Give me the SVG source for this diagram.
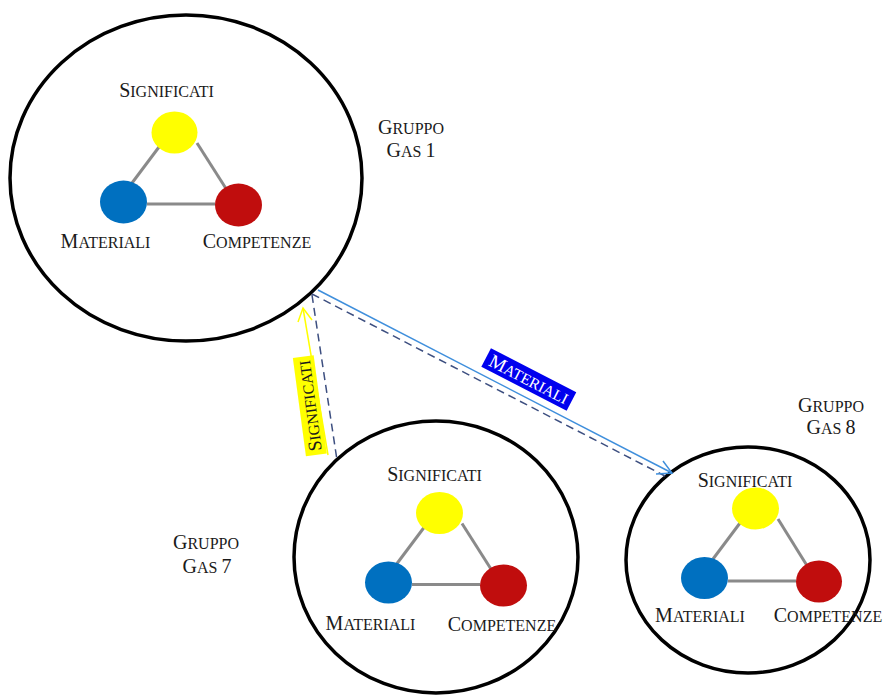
<svg xmlns="http://www.w3.org/2000/svg" width="885" height="696" viewBox="0 0 885 696">
<style>
.ring{fill:#fff;stroke:#000;stroke-width:3.5}
.link{stroke:#8a8a8a;stroke-width:3;fill:none}
.y{fill:#ffff00}
.b{fill:#0070c0}
.r{fill:#c00d0d}
text{font-family:"Liberation Serif","Times New Roman",serif;fill:#1a1a1a}
.c{text-anchor:middle}
.big{font-size:20px}
.sm{font-size:16px}
.dash{stroke:#3d4f80;stroke-width:1.5;stroke-dasharray:8,5;fill:none}
</style>
<rect width="885" height="696" fill="#fff"/>

<g id="gas1">
  <ellipse class="ring" cx="186" cy="178" rx="176" ry="163"/>
  <line class="link" x1="159" y1="147" x2="132" y2="183"/>
  <line class="link" x1="197" y1="143" x2="232" y2="198"/>
  <line class="link" x1="147" y1="204" x2="215" y2="204"/>
  <ellipse class="y" cx="174.5" cy="132.5" rx="23" ry="21"/>
  <ellipse class="b" cx="123.5" cy="202" rx="23.5" ry="21.5"/>
  <ellipse class="r" cx="238.5" cy="205" rx="23.5" ry="21.5"/>
  <text class="c" x="166.5" y="97"><tspan class="big">S</tspan><tspan class="sm">IGNIFICATI</tspan></text>
  <text class="c" x="105.5" y="248"><tspan class="big">M</tspan><tspan class="sm">ATERIALI</tspan></text>
  <text class="c" x="257" y="248"><tspan class="big">C</tspan><tspan class="sm">OMPETENZE</tspan></text>
  <text class="c" x="411" y="134"><tspan class="big">G</tspan><tspan class="sm">RUPPO</tspan></text>
  <text class="c" x="411" y="157"><tspan class="big">G</tspan><tspan class="sm">AS </tspan><tspan class="big">1</tspan></text>
</g>

<g id="gas7">
  <ellipse class="ring" cx="436" cy="557" rx="142" ry="136"/>
  <line class="link" x1="424" y1="527.5" x2="397" y2="563.5"/>
  <line class="link" x1="462" y1="523.5" x2="497" y2="578.5"/>
  <line class="link" x1="412" y1="584.5" x2="480" y2="584.5"/>
  <ellipse class="y" cx="439.5" cy="513" rx="23.5" ry="21"/>
  <ellipse class="b" cx="388.5" cy="582.5" rx="23.5" ry="21"/>
  <ellipse class="r" cx="503.5" cy="585.5" rx="23.5" ry="21"/>
  <text class="c" x="434.5" y="481"><tspan class="big">S</tspan><tspan class="sm">IGNIFICATI</tspan></text>
  <text class="c" x="370.5" y="630"><tspan class="big">M</tspan><tspan class="sm">ATERIALI</tspan></text>
  <text class="c" x="502" y="631"><tspan class="big">C</tspan><tspan class="sm">OMPETENZE</tspan></text>
  <text class="c" x="206" y="549"><tspan class="big">G</tspan><tspan class="sm">RUPPO</tspan></text>
  <text class="c" x="207" y="573"><tspan class="big">G</tspan><tspan class="sm">AS </tspan><tspan class="big">7</tspan></text>
</g>

<g id="gas8">
  <ellipse class="ring" cx="748" cy="560" rx="122" ry="113"/>
  <line class="link" x1="740" y1="523" x2="713" y2="559"/>
  <line class="link" x1="778" y1="519" x2="812.5" y2="574.5"/>
  <line class="link" x1="728" y1="581" x2="796" y2="581"/>
  <ellipse class="y" cx="755.5" cy="508.5" rx="23.5" ry="21"/>
  <ellipse class="b" cx="704.5" cy="578" rx="23.5" ry="21"/>
  <ellipse class="r" cx="819" cy="581.5" rx="23" ry="21"/>
  <text class="c" x="745" y="487"><tspan class="big">S</tspan><tspan class="sm">IGNIFICATI</tspan></text>
  <text class="c" x="700" y="622"><tspan class="big">M</tspan><tspan class="sm">ATERIALI</tspan></text>
  <text class="c" x="828" y="622"><tspan class="big">C</tspan><tspan class="sm">OMPETENZE</tspan></text>
  <text class="c" x="831" y="412"><tspan class="big">G</tspan><tspan class="sm">RUPPO</tspan></text>
  <text class="c" x="831" y="434"><tspan class="big">G</tspan><tspan class="sm">AS </tspan><tspan class="big">8</tspan></text>
</g>

<g id="connectors">
  <line class="dash" x1="312" y1="294" x2="665" y2="476"/>
  <line class="dash" x1="312" y1="295" x2="337" y2="460"/>
  <line x1="318" y1="290" x2="672" y2="473" stroke="#3f8fdc" stroke-width="1.5"/>
  <polyline points="663,461 672,473 656,474" fill="none" stroke="#3f8fdc" stroke-width="1.5"/>
  <line x1="328" y1="455" x2="303" y2="308" stroke="#ffff00" stroke-width="1.5"/>
  <polyline points="298,322 303,308 312,320" fill="none" stroke="#ffff00" stroke-width="1.5"/>
  <g transform="translate(309.8,405.8) rotate(-97.6)">
    <rect x="-49.5" y="-10.5" width="99" height="21" fill="#ffff00"/>
    <text class="c" x="0" y="6"><tspan font-size="19px">S</tspan><tspan font-size="15.5px">IGNIFICATI</tspan></text>
  </g>
  <g transform="translate(528.8,379.5) rotate(27.3)">
    <rect x="-48" y="-10.5" width="96" height="21" fill="#0000ee"/>
    <text class="c" x="0" y="6" style="fill:#fff"><tspan font-size="19px">M</tspan><tspan font-size="15.5px">ATERIALI</tspan></text>
  </g>
</g>
</svg>
